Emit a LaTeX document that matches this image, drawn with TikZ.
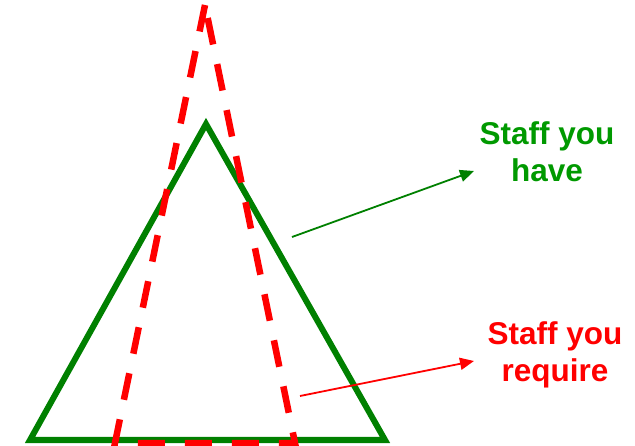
\documentclass[tikz,border=0pt]{standalone}
\usepackage{fontspec}
\setmainfont{Liberation Sans}
\usetikzlibrary{arrows.meta}
\definecolor{tgreen}{RGB}{0,128,0}
\definecolor{txgreen}{RGB}{0,153,0}
\definecolor{tred}{RGB}{255,0,0}
\begin{document}
\begin{tikzpicture}[x=1pt,y=-1pt,
  havetri/.style={draw=tgreen,line width=6pt,line join=miter},
  needtri/.style={draw=tred,line width=6.5pt,dash pattern=on 27pt off 20pt,dash phase=0pt},
  pointer/.style={line width=1.8pt,-{Triangle[length=14pt,width=12pt]}},
  label/.style={font=\bfseries\fontsize{31.5}{37}\selectfont,align=center,anchor=base,inner sep=0pt}]
\useasboundingbox (0,0) rectangle (635,446);
% green triangle
\coordinate (gA) at (206,124);
\coordinate (gL) at (30,440);
\coordinate (gR) at (385,440);
\draw[havetri] (gA) -- (gL) -- (gR) -- cycle;
% red dashed triangle
\coordinate (rA) at (205,5);
\coordinate (rL) at (115,443);
\coordinate (rR) at (295,443);
\draw[needtri] (rA) -- (rL) -- (rR) -- (rA);
% labels
\node[label,text=txgreen] (have) at (547,182) {Staff you\\have};
\node[label,text=tred] (need) at (555,382) {Staff you\\require};
% pointers
\coordinate (hs) at (292,237);
\coordinate (ht) at (474,171);
\coordinate (ns) at (300,396);
\coordinate (nt) at (474,361);
\draw[pointer,tgreen] (hs) -- (ht);
\draw[pointer,tred] (ns) -- (nt);
\end{tikzpicture}
\end{document}
